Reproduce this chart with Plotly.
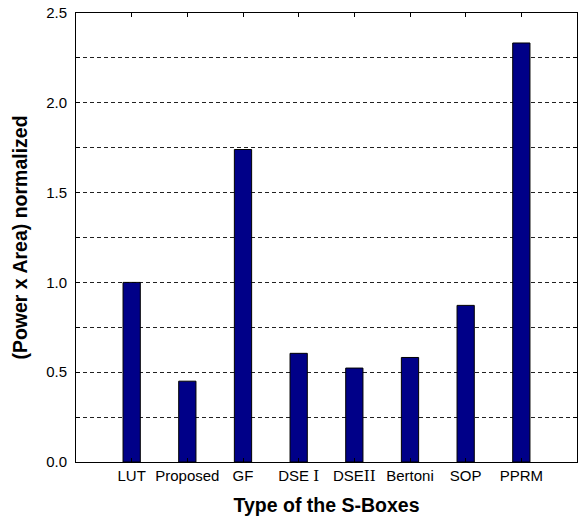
import plotly.graph_objects as go

serif = "<span style='font-family:DejaVu Serif'>"
categories = ["LUT", "Proposed", "GF", "DSE \u2160", "DSE\u2161", "Bertoni", "SOP", "PPRM"]
tick_labels = ["LUT", "Proposed", "GF", "DSE " + serif + "I</span>", "DSE" + serif + "II</span>",
               "Bertoni", "SOP", "PPRM"]
values = [1.0, 0.45, 1.74, 0.605, 0.523, 0.582, 0.872, 2.333]
ytick_vals = [0, 0.25, 0.5, 0.75, 1.0, 1.25, 1.5, 1.75, 2.0, 2.25, 2.5]
ytick_text = ["0.0", "", "0.5", "", "1.0", "", "1.5", "", "2.0", "", "2.5"]

fig = go.Figure()
fig.add_trace(go.Bar(
    x=list(range(len(categories))), y=values,
    width=0.31,
    marker=dict(color="#000088", line=dict(color="#000000", width=1)),
))

font = "Liberation Sans, Arial, DejaVu Sans, sans-serif"
fig.update_layout(
    width=588, height=520,
    margin=dict(l=76, r=11, t=13, b=58, autoexpand=False),
    plot_bgcolor="white", paper_bgcolor="white",
    showlegend=False,
    font=dict(family=font, size=15, color="black"),
    xaxis=dict(
        range=[-1, 8], automargin=False,
        tickmode="array", tickvals=list(range(len(categories))), ticktext=tick_labels,
        showgrid=False, zeroline=False,
        showline=True, linecolor="black", linewidth=1, mirror="ticks",
        ticks="inside", ticklen=4, tickcolor="black",
        tickfont=dict(size=15),
        title=dict(text="<b>Type of the S-Boxes</b>", font=dict(size=19.5), standoff=14),
    ),
    yaxis=dict(
        range=[0, 2.5], automargin=False,
        tickmode="array", tickvals=ytick_vals, ticktext=ytick_text,
        showgrid=True, gridcolor="#222222", gridwidth=1, griddash="4px,3px",
        zeroline=False,
        showline=True, linecolor="black", linewidth=1, mirror="ticks",
        ticks="inside", ticklen=4, tickcolor="black",
        tickfont=dict(size=15), ticklabelstandoff=5,
        title=dict(text="<b>(Power x Area) normalized</b>", font=dict(size=19.5), standoff=13),
    ),
)

fig.write_html("out.html", config={"displayModeBar": False},
               post_script="document.body.style.margin='0';document.body.style.overflow='hidden';")
